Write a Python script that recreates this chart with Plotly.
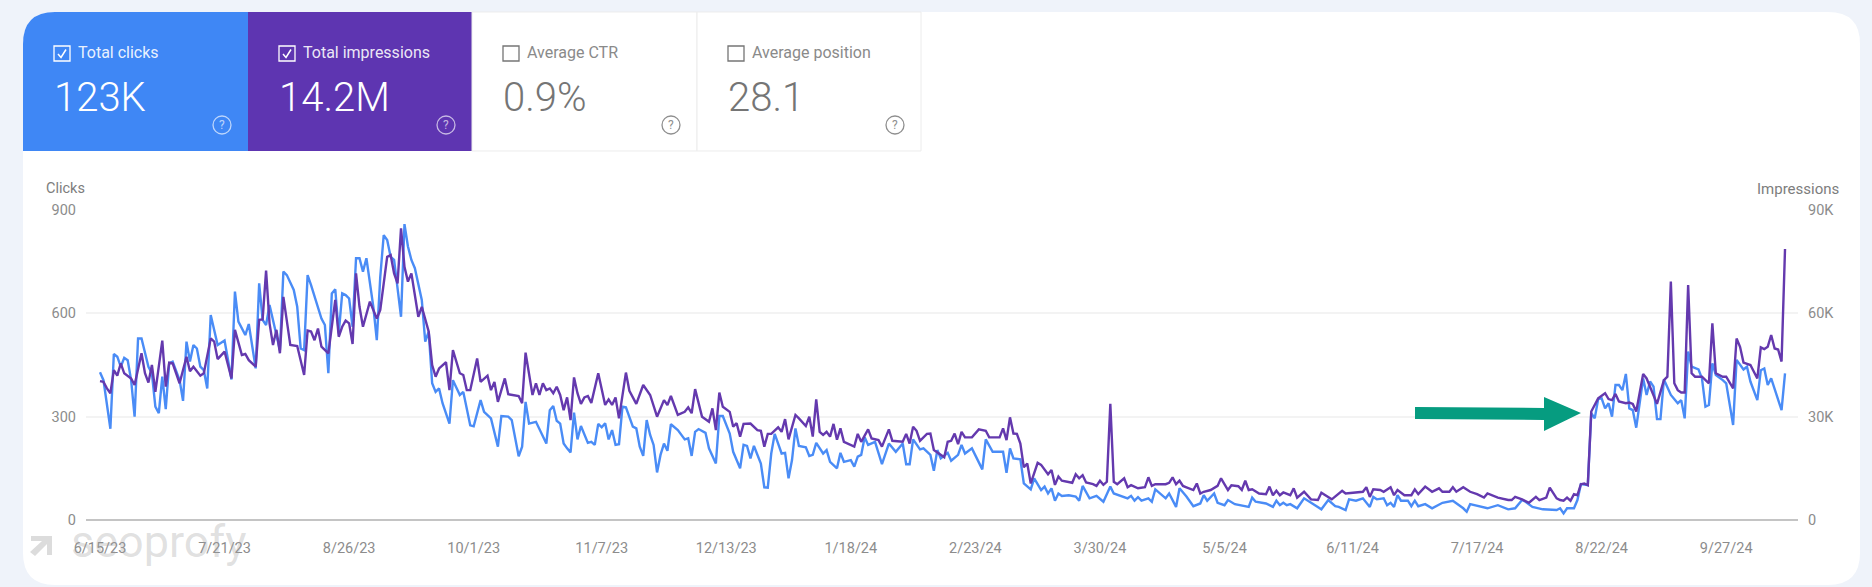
import pandas as pd
import plotly.graph_objects as go

W, H = 1872, 587
START = pd.Timestamp("2023-06-15")

# offsets in days from START, clicks
click_days = [0,1,3,4,5,6,7,8,9,10,11,12,14,15,16,17,18,19,20,21,23,24,25,26,27,28,29,30,31,32,34,36,38,39,40,42,43,45,46,47,48,49,52,53,54,56,57,58,59,60,61,64,65,66,
    67,68,69,70,71,72,73,74,75,76,77,79,80,81,82,83,84,85,87,88,89,90,91,93,94,95,96,97,98,99,101,102,104,105,107,108,110,111,113,115,116,118,119,121,122,123,124,126,129,130,
    131,132,133,134,135,136,137,138,139,141,142,143,144,145,146,147,148,149,150,151,152,154,155,156,157,158,159,160,161,162,163,164,165,167,169,170,171,172,173,175,176,178,179,180,182,183,185,186,187,188,189,191,192,193,194,195,197,198,199,
    200,201,202,204,205,206,207,209,210,211,213,214,215,217,218,219,220,221,222,224,226,228,230,232,233,234,235,237,238,240,241,242,243,245,246,248,249,250,252,255,256,258,261,262,263,
    264,266,267,269,270,272,273,274,275,276,277,278,280,282,283,284,286,288,290,292,293,295,297,298,299,300,301,303,304,305,308,309,311,312,314,316,318,319,320,322,323,325,326,328,330,332,333,334,337,339,340,341,342,343,344,346,348,353,355,357,358,360,361,363,365,367,368,369,371,372,373,374,375,376,378,379,380,381,383,385,388,391,394,395,396,399,401,404,407,409,411,412,414,417,421,422,423,424,426,427,428,430,
    431,432,433,434,435,436,437,438,439,440,441,442,443,444,446,447,448,449,450,451,452,454,456,457,458,459,460,462,463,464,465,466,467,469,470,472,473,475,476,477,479,480,481,482,483,486,487]
clicks = [429,406,265,482,474,445,471,464,406,300,527,527,445,426,329,310,416,322,455,460,406,346,518,460,508,498,445,435,382,595,508,521,408,663,576,537,569,440,687,581,566,624,493,721,711,668,619,498,493,711,682,585,566,426,
    658,670,542,658,653,643,561,760,760,721,760,619,522,706,827,813,764,755,590,859,794,755,731,639,518,547,397,372,382,339,280,406,363,372,275,272,348,314,295,213,302,300,290,185,213,343,280,285,222,319,
    331,288,280,222,208,196,312,234,273,224,227,218,279,269,281,234,261,218,220,329,327,271,266,213,186,290,247,218,138,189,222,201,278,261,234,237,186,256,264,253,208,164,302,302,251,198,150,218,215,179,215,164,95,94,193,250,193,195,121,
    174,266,215,211,186,189,224,193,203,169,150,195,169,174,155,184,189,240,218,227,162,222,198,222,162,162,234,205,208,189,143,203,179,195,172,189,218,193,208,147,234,198,198,137,208,
    179,176,106,89,121,87,97,77,92,56,77,70,72,68,56,99,63,70,53,97,77,70,63,70,56,66,56,63,53,89,63,77,38,92,68,40,48,72,56,77,50,43,58,46,43,38,65,53,48,38,56,43,50,43,46,34,63,31,58,40,38,29,60,56,63,38,67,60,63,43,50,38,72,56,56,40,56,40,46,34,50,56,34,24,46,40,34,43,31,34,58,53,38,31,29,34,19,34,34,58,104,101,
    310,295,351,353,324,339,300,392,392,377,424,324,319,268,411,363,402,387,293,293,408,363,339,348,295,489,445,437,411,329,334,455,421,406,397,276,465,437,445,402,348,435,440,392,411,319,426]

# impressions in hundreds
impr_days = [0,1,2,3,4,5,6,7,9,10,12,13,14,15,16,18,19,20,21,23,25,26,27,29,30,32,33,34,36,38,39,41,42,43,45,46,47,48,49,50,51,52,53,54,55,57,59,60,61,62,63,64,66,
    68,69,70,71,72,73,74,75,76,78,80,81,83,84,85,86,87,88,89,90,92,93,95,96,97,98,100,101,102,104,105,106,107,109,110,112,113,114,115,117,118,121,122,123,125,126,127,128,129,
    130,131,132,133,134,135,136,137,138,139,140,141,142,144,146,147,148,149,150,152,153,155,157,159,161,163,164,165,167,169,170,171,172,174,176,177,178,179,180,182,183,184,185,186,188,190,191,192,193,194,196,197,198,199,
    201,202,204,205,206,207,208,209,210,211,212,213,214,215,218,219,220,222,223,225,226,228,229,232,233,234,235,236,237,239,240,241,244,245,246,247,248,249,250,252,254,256,257,260,261,262,263,
    264,265,266,267,268,269,271,272,274,275,276,277,278,281,282,283,284,285,287,288,289,290,291,292,293,294,296,297,298,300,302,303,304,305,308,309,310,311,312,313,314,316,317,318,319,321,323,324,326,327,329,330,331,332,333,335,337,338,339,340,341,342,344,345,346,348,350,352,353,355,356,359,360,365,366,367,368,370,371,373,374,375,377,379,380,381,383,385,387,388,390,391,392,394,396,398,400,401,404,407,408,409,411,413,415,416,418,419,421,422,423,424,425,426,427,428,429,430,
    431,433,435,436,437,438,439,441,442,443,444,446,447,450,452,453,454,455,456,457,458,459,460,461,463,465,466,467,469,470,472,473,474,475,477,479,480,481,482,483,484,485,486,487]
impressions = [403,401,382,368,435,419,455,426,411,392,484,426,399,450,372,521,387,457,455,397,474,432,445,419,426,527,518,467,489,411,552,479,482,464,445,581,582,724,571,508,552,484,648,571,508,505,421,550,547,522,556,503,484,
    639,532,561,579,571,511,716,619,561,634,585,610,764,769,716,687,847,735,692,716,590,619,547,450,416,440,458,377,493,426,421,377,377,469,401,419,377,401,343,411,365,360,339,486,363,397,363,397,377,
    382,368,387,363,319,356,290,414,368,337,356,360,340,426,334,350,334,356,295,428,375,337,392,363,300,348,334,360,305,314,327,310,380,300,285,324,261,370,329,314,271,281,242,279,280,261,259,213,250,250,269,256,293,234,
    305,295,273,300,242,350,256,247,256,242,279,233,266,227,213,250,227,263,237,232,213,263,230,227,250,222,271,259,230,250,251,203,182,227,230,251,220,256,240,240,263,259,240,240,266,232,298,
    251,250,222,153,164,106,166,160,133,145,102,126,114,108,133,121,130,109,104,99,114,102,111,337,111,104,121,95,101,92,95,124,99,104,104,108,124,104,114,99,95,87,106,77,82,87,99,121,87,101,98,87,114,87,89,77,75,97,72,85,72,80,72,92,65,82,60,58,79,65,60,85,77,82,95,67,89,87,82,95,72,87,72,72,89,75,97,82,92,82,82,95,82,95,82,75,65,77,65,58,58,67,60,50,67,58,65,94,63,58,56,65,56,75,72,104,106,101,
    315,353,368,351,348,366,344,339,341,337,315,424,411,337,406,416,692,397,377,370,370,682,426,416,416,397,571,426,416,416,382,527,503,457,450,411,501,496,503,537,498,495,460,787]

tick_labels = ["6/15/23","7/21/23","8/26/23","10/1/23","11/7/23","12/13/23","1/18/24","2/23/24","3/30/24","5/5/24","6/11/24","7/17/24","8/22/24","9/27/24"]
left_ticks = [0, 300, 600, 900]
right_ticks = [0, 30000, 60000, 90000]
right_labels = ["0", "30K", "60K", "90K"]

metric_names = ["Total clicks", "Total impressions", "Average CTR", "Average position"]
metric_values = ["123K", "14.2M", "0.9%", "28.1"]
metric_checked = [True, True, False, False]

BLUE = "#4a8cf6"
PURPLE = "#6439ae"
CARD_BLUE = "#3f87f5"
CARD_PURPLE = "#5e35b1"
GREY = "#757575"
TICK = "#8c8c8c"
FONT = "Roboto"


def fx(v):
    return v / W


def fy(v):
    return 1 - v / H


def poly(points, close=True):
    path = "M" + " L".join(f"{fx(x):.5f},{fy(y):.5f}" for x, y in points)
    return path + (" Z" if close else "")


def rounded(x0, y0, x1, y1, tl, tr, br, bl):
    # card outline, corners done with quadratic curves
    return (
        f"M{fx(x0 + tl):.5f},{fy(y0):.5f} L{fx(x1 - tr):.5f},{fy(y0):.5f} "
        f"Q{fx(x1):.5f},{fy(y0):.5f} {fx(x1):.5f},{fy(y0 + tr):.5f} "
        f"L{fx(x1):.5f},{fy(y1 - br):.5f} Q{fx(x1):.5f},{fy(y1):.5f} {fx(x1 - br):.5f},{fy(y1):.5f} "
        f"L{fx(x0 + bl):.5f},{fy(y1):.5f} Q{fx(x0):.5f},{fy(y1):.5f} {fx(x0):.5f},{fy(y1 - bl):.5f} "
        f"L{fx(x0):.5f},{fy(y0 + tl):.5f} Q{fx(x0):.5f},{fy(y0):.5f} {fx(x0 + tl):.5f},{fy(y0):.5f} Z"
    )


def label(text, x, y, size, color, anchor="left", weight=400):
    return dict(text=text, x=fx(x), y=fy(y), xref="paper", yref="paper", showarrow=False,
                xanchor=anchor, yanchor="middle", font=dict(family=FONT, size=size, color=color, weight=weight))


fig = go.Figure()
fig.add_trace(go.Scatter(x=[START + pd.Timedelta(days=d) for d in impr_days], y=[v * 100 for v in impressions],
                         yaxis="y2", mode="lines", line=dict(color=PURPLE, width=2.4), name="Impressions"))
fig.add_trace(go.Scatter(x=[START + pd.Timedelta(days=d) for d in click_days], y=clicks,
                         mode="lines", line=dict(color=BLUE, width=2.4), name="Clicks"))

shapes = [dict(type="path", path=rounded(23, 12, 1860, 585, 32, 32, 32, 32), fillcolor="white", line_width=0,
               xref="paper", yref="paper", layer="below")]
annotations = []

# watermark is see-through so the tick labels still read under it
shapes.append(dict(type="path", path=poly([(31, 536), (52, 536), (52, 555), (47, 555), (47, 544), (35, 556), (30, 552), (42, 541), (31, 541)]),
                   fillcolor="#dcdcdc", line_width=0, xref="paper", yref="paper", layer="below"))
annotations.append(label("seoprofy", 69, 541, 45, "rgba(160,160,160,0.32)"))

card_x = [23, 248, 472, 697, 921]
card_fill = [CARD_BLUE, CARD_PURPLE, "white", "white"]
for i, name in enumerate(metric_names):
    x0, x1 = card_x[i], card_x[i + 1]
    tl = 32 if i == 0 else 0
    shapes.append(dict(type="path", path=rounded(x0, 12, x1, 151, tl, 0, 0, 0), fillcolor=card_fill[i],
                       line=dict(color="#ececec", width=1) if i > 1 else dict(width=0),
                       xref="paper", yref="paper", layer="below"))
    color = "white" if metric_checked[i] else GREY
    box_x = x0 + 31
    shapes.append(dict(type="rect", x0=fx(box_x), x1=fx(box_x + 16), y0=fy(46), y1=fy(61), line=dict(color=color, width=1.3),
                       xref="paper", yref="paper"))
    if metric_checked[i]:
        shapes.append(dict(type="path", path=poly([(box_x + 4, 54), (box_x + 7, 57.5), (box_x + 12, 49.5)], close=False),
                           line=dict(color="white", width=1.5), xref="paper", yref="paper"))
    annotations.append(label(name, x0 + 53, 53, 16, "rgba(255,255,255,0.9)" if metric_checked[i] else "#8a8a8a"))
    annotations.append(label(metric_values[i], x0 + 29, 97, 40, color, weight=300))
    cx = x1 - 26
    q_color = "rgba(255,255,255,0.65)" if metric_checked[i] else "#8f8f8f"
    shapes.append(dict(type="circle", x0=fx(cx - 9), x1=fx(cx + 9), y0=fy(116), y1=fy(134), line=dict(color=q_color, width=1.3),
                       xref="paper", yref="paper"))
    annotations.append(label("?", cx, 125, 12, q_color, anchor="center"))

# green arrow pointing at the jump
shapes.append(dict(type="path", path=poly([(1415, 407), (1544, 408), (1544, 397), (1581, 413), (1544, 431), (1544, 420), (1415, 419)]),
                   fillcolor="#069c80", line_width=0, xref="paper", yref="paper"))

annotations.append(label("Clicks", 44, 189, 14.5, "#7d7d7d"))
annotations.append(label("Impressions", 1841, 189, 15, "#7d7d7d", anchor="right"))

x_left = START + pd.Timedelta(days=(86 - 100) / 3.46)
x_right = START + pd.Timedelta(days=(1798 - 100) / 3.46)
tick_dates = pd.to_datetime(tick_labels, format="%m/%d/%y")

fig.update_layout(
    width=W, height=H, margin=dict(l=0, r=0, t=0, b=0), autosize=False,
    paper_bgcolor="#eff3fa", plot_bgcolor="rgba(0,0,0,0)", showlegend=False,
    font=dict(family=FONT),
    shapes=shapes, annotations=annotations,
    xaxis=dict(domain=[fx(86), fx(1798)], type="date", range=[x_left, x_right], tickvals=list(tick_dates), ticktext=tick_labels,
               showgrid=False, ticks="", showline=False, zeroline=False, ticklabelstandoff=17, automargin=False,
               tickfont=dict(family=FONT, size=14.5, color=TICK)),
    yaxis=dict(domain=[fy(520), fy(210)], range=[0, 900], tickvals=left_ticks, showgrid=True, gridcolor="#f3f3f3", gridwidth=2,
               zeroline=True, zerolinecolor="#c4c4c4", zerolinewidth=2, ticks="", ticklabelstandoff=9, automargin=False,
               tickfont=dict(family=FONT, size=14.5, color=TICK)),
    yaxis2=dict(overlaying="y", side="right", anchor="x", range=[0, 90000], tickvals=right_ticks, ticktext=right_labels, showgrid=False,
                zeroline=False, ticks="", ticklabelstandoff=9, automargin=False, tickfont=dict(family=FONT, size=14.5, color=TICK)),
)

fig.write_html("out.html", config={"displayModeBar": False}, post_script="document.body.style.margin='0';")
